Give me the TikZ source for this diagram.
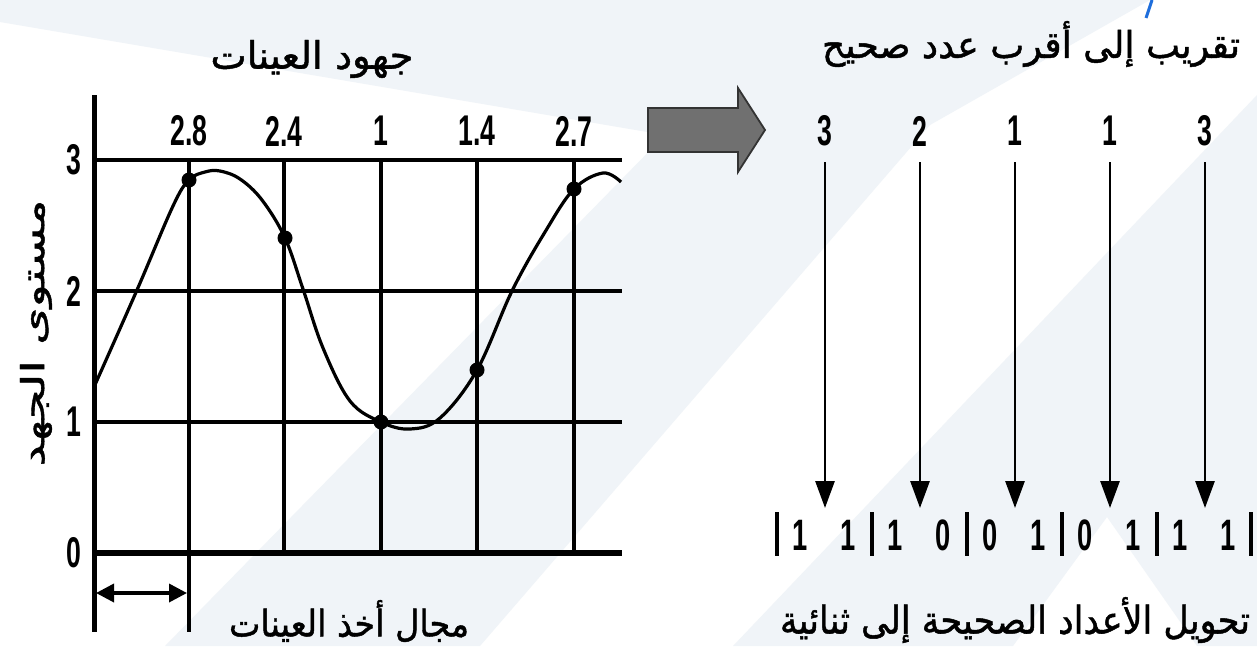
\documentclass[tikz,border=0pt]{standalone}
\usepackage{fontspec}
\usepackage{graphicx}
\usetikzlibrary{arrows.meta}
\TeXXeTstate=1
\newfontfamily\arabicfont[Script=Arabic,FakeBold=1.2]{DejaVu Sans}
\newfontfamily\numfont{Liberation Sans}
\definecolor{wm}{RGB}{240,244,248}
\definecolor{markblue}{RGB}{30,110,220}
\definecolor{arrowgray}{RGB}{112,112,112}
\newcommand{\nm}[1]{\scalebox{0.62}[1]{#1}}
\begin{document}
\begin{tikzpicture}[x=1pt,y=-1pt,
  artext/.style={inner sep=0pt, font=\arabicfont\fontsize{30}{34}\selectfont},
  numtext/.style={inner sep=0pt, font=\numfont\bfseries\fontsize{43}{45}\selectfont},
  bittext/.style={inner sep=0pt, font=\numfont\bfseries\fontsize{44}{46}\selectfont},
  hgrid/.style={line width=4.4pt},
  vgrid/.style={line width=3.2pt},
  curve/.style={line width=3.2pt, line join=round},
  sampledot/.style={circle, fill=black, inner sep=0pt, minimum size=15pt},
  downarrow/.style={line width=2.8pt, -{Triangle[width=19pt,length=27pt]}},
  spanarrow/.style={line width=3.6pt, {Triangle[width=18pt,length=18pt]}-{Triangle[width=18pt,length=18pt]}},
  bitbar/.style={line width=3.4pt},
  blockarrow/.style={fill=arrowgray, draw=black!80, line width=1.8pt}
]
\useasboundingbox (0,0) rectangle (1257,646);
\fill[white] (0,0) rectangle (1257,646);
% watermark
\fill[wm] (0,0) -- (1150,0) -- (930,125) -- (480,646) -- (165,646) -- (665,135) -- (0,22) -- cycle;
\fill[wm] (733,646) -- (1013,646) -- (1107,517) -- (1197,646) -- (1257,646) -- (1257,95) -- cycle;
\draw[markblue, line width=3pt] (1152,0) -- (1146,18);

% ---------- left graph ----------
\coordinate (ax0) at (94,95);
\coordinate (ax1) at (94,632);
\foreach \y in {160,291,422} {
  \draw[hgrid] (94,\y) -- (622,\y);
}
\draw[line width=6.5pt] (92,553) -- (622,553);
\draw[line width=5pt] (ax0) -- (ax1);
\foreach \x in {284,381,477,574} {
  \draw[vgrid] (\x,160) -- (\x,553);
}
\draw[vgrid] (189,160) -- (189,632);

% y tick labels
\node[numtext] (y3) at (74,160) {\nm{3}};
\node[numtext] (y2) at (74,291) {\nm{2}};
\node[numtext] (y1) at (74,422) {\nm{1}};
\node[numtext] (y0) at (74,553) {\nm{0}};

% sample values
\node[numtext] (v1) at (189,131) {\nm{2.8}};
\node[numtext] (v2) at (284,131) {\nm{2.4}};
\node[numtext] (v3) at (381,131) {\nm{1}};
\node[numtext] (v4) at (477,131) {\nm{1.4}};
\node[numtext] (v5) at (574,131) {\nm{2.7}};

% curve
\draw[curve] plot[smooth, tension=0.6] coordinates {
  (94,387) (137,290) (173,206) (189,180) (205,172) (220,171) (240,179)
  (262,200) (285,238) (303,289) (323,348) (350,401) (381,422) (410,429)
  (440,418) (477,370) (512,291) (545,232) (574,189) (603,173) (621,182)};

\node[sampledot] (d1) at (189,180) {};
\node[sampledot] (d2) at (285,238) {};
\node[sampledot] (d3) at (381,422) {};
\node[sampledot] (d4) at (477,370) {};
\node[sampledot] (d5) at (574,189) {};

% titles
\node[artext] (ltitle) at (312,59) {\resizebox*{203pt}{38pt}{\beginR جهود العينات\endR}};
\node[artext, rotate=90] (ylab) at (36,333) {\resizebox*{267pt}{32pt}{\beginR مستوى الجهد\endR}};
\node[artext] (lbottom) at (349,621) {\resizebox*{240pt}{42pt}{\beginR مجال أخذ العينات\endR}};

% sampling interval arrow
\coordinate (sa) at (96,593);
\coordinate (sb) at (187,593);
\draw[spanarrow] (sa) -- (sb);

% ---------- gray block arrow ----------
\draw[blockarrow] (648,108) -- (738,108) -- (738,88) -- (765,130) -- (738,172) -- (738,152) -- (648,152) -- cycle;

% ---------- right side ----------
\node[artext] (rtitle) at (1031,44) {\resizebox*{418pt}{46pt}{\beginR تقريب إلى أقرب عدد صحيح\endR}};
\node[artext] (rbottom) at (1015,620) {\resizebox*{470pt}{46pt}{\beginR تحويل الأعداد الصحيحة إلى ثنائية\endR}};

\foreach \i/\x/\v in {1/825/3,2/920/2,3/1015/1,4/1110/1,5/1205/3} {
  \node[numtext] (n\i) at (\x,131) {\nm{\v}};
  \coordinate (s\i) at (\x,162);
  \coordinate (t\i) at (\x,508);
  \draw[downarrow] (s\i) -- (t\i);
}

% binary row
\foreach \i/\x in {0/777,1/872,2/967,3/1062,4/1157,5/1251} {
  \coordinate (ba\i) at (\x,512);
  \coordinate (bb\i) at (\x,556);
  \draw[bitbar] (ba\i) -- (bb\i);
}
\foreach \i/\x/\b in {1/800/1,2/848/1,3/895/1,4/943/0,5/990/0,6/1038/1,7/1085/0,8/1133/1,9/1180/1,10/1228/1} {
  \node[bittext] (b\i) at (\x,535) {\nm{\b}};
}
\end{tikzpicture}
\end{document}
